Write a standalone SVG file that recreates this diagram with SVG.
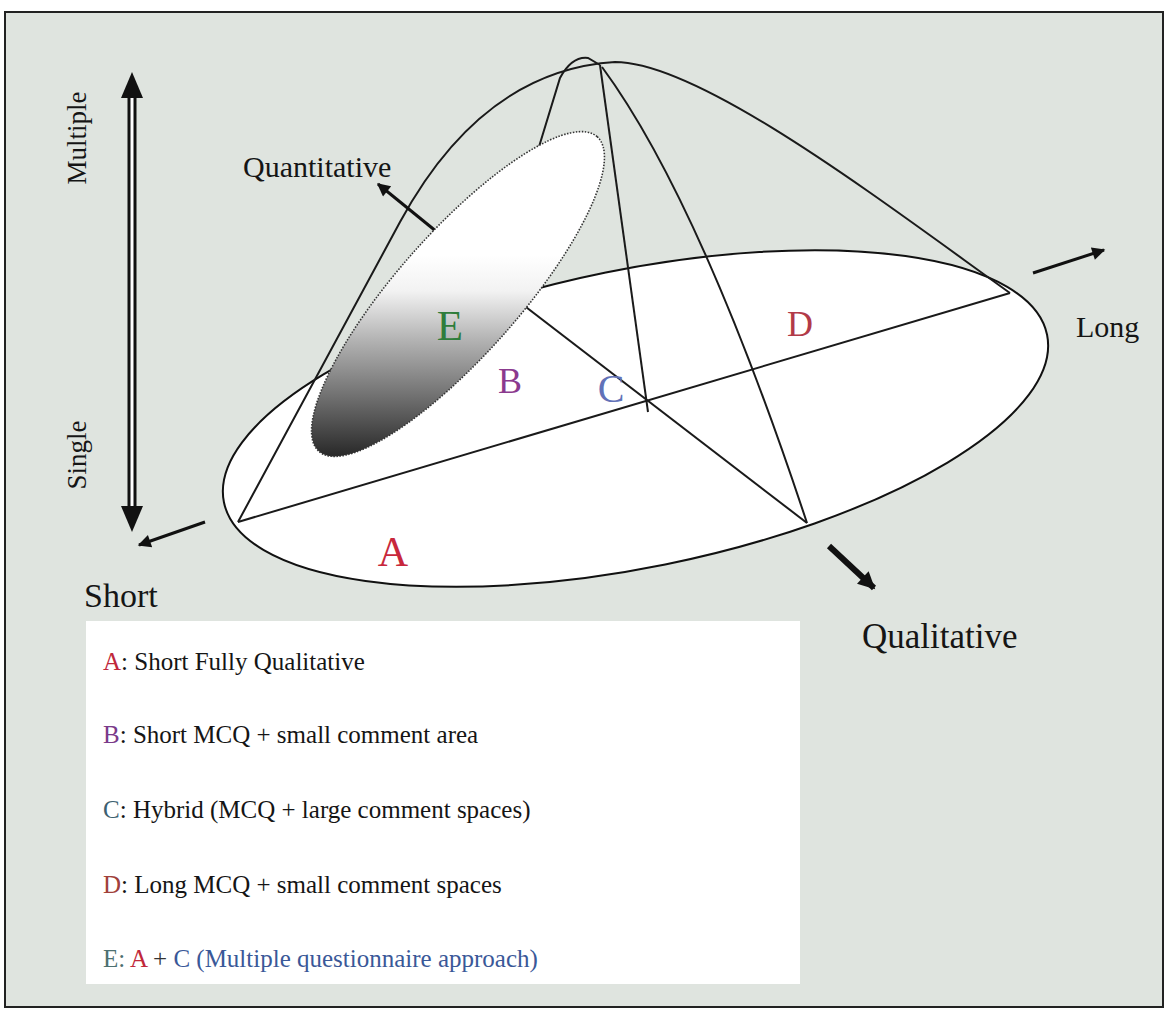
<svg xmlns="http://www.w3.org/2000/svg" width="1167" height="1012" viewBox="0 0 1167 1012">
<style>
.ln{fill:none;stroke:#1a1a1a;stroke-width:2}
.ar{fill:none;stroke:#111;stroke-width:3}
.t{font-family:"Liberation Serif","Times New Roman",serif;fill:#151515}
.lg{font-family:"Liberation Serif","Times New Roman",serif;font-size:25px;fill:#151515}
.big{font-family:"Liberation Serif","Times New Roman",serif;text-anchor:middle}
</style>
<defs>
<linearGradient id="eg" gradientUnits="userSpaceOnUse" x1="0" y1="255" x2="0" y2="455" gradientTransform="rotate(48.5 458 294)">
<stop offset="0" stop-color="#ffffff"/>
<stop offset="0.18" stop-color="#f2f2f2"/>
<stop offset="0.42" stop-color="#b4b4b4"/>
<stop offset="0.7" stop-color="#727272"/>
<stop offset="1" stop-color="#2a2a2a"/>
</linearGradient>
<marker id="tri" viewBox="0 0 10 10" refX="9" refY="5" markerWidth="16" markerHeight="13" markerUnits="userSpaceOnUse" orient="auto">
<path d="M0,0 L10,5 L0,10 z" fill="#111"/>
</marker>
<marker id="triB" viewBox="0 0 10 10" refX="9" refY="5" markerWidth="20" markerHeight="17" markerUnits="userSpaceOnUse" orient="auto">
<path d="M0,0 L10,5 L0,10 z" fill="#111"/>
</marker>
</defs>
<rect x="0" y="0" width="1167" height="1012" fill="#ffffff"/>
<rect id="frame" x="5" y="12" width="1158" height="995" fill="#dfe4df" stroke="#222" stroke-width="2"/>

<g id="base">
<ellipse cx="635.5" cy="418.5" rx="420" ry="149" transform="rotate(-11.5 635.5 418.5)" fill="#ffffff" stroke="#111" stroke-width="2"/>
</g>

<g id="connectors">
<path class="ln" d="M238,522 L1010,293"/>
<path class="ln" d="M500,287 L807,523"/>
<path class="ln" d="M600,65 L648,412"/>
<path class="ln" d="M602,67 Q700,200 807,523"/>
<path class="ln" d="M238,522 L400,222 C450,130 520,68 615,62 C700,62 880,200 1010,293"/>
<path class="ln" d="M538,150 L560,78 Q572,56 588,58 L600,65"/>
<line class="ar" x1="437" y1="232" x2="378" y2="184" marker-end="url(#tri)"/>
<line class="ar" x1="1033" y1="273" x2="1104" y2="250" marker-end="url(#tri)"/>
<line class="ar" x1="205" y1="522" x2="139" y2="545" marker-end="url(#tri)"/>
<line x1="829" y1="546" x2="874" y2="588" stroke="#111" stroke-width="6" marker-end="url(#triB)"/>
</g>

<g id="E-ellipse">
<ellipse cx="458" cy="294" rx="210" ry="61" transform="rotate(-48.5 458 294)" fill="url(#eg)" stroke="#333" stroke-width="1.6" stroke-dasharray="1.5 1.5"/>
</g>

<g id="axis">
<line x1="132" y1="95" x2="132" y2="510" stroke="#111" stroke-width="9"/>
<line x1="132" y1="95" x2="132" y2="510" stroke="#ffffff" stroke-width="3"/>
<path d="M132,72 L143,98 L121,98 z" fill="#111"/>
<path d="M132,532 L143,506 L121,506 z" fill="#111"/>
<text class="t" font-size="27" text-anchor="middle" transform="translate(86,138) rotate(-90)">Multiple</text>
<text class="t" font-size="27" text-anchor="middle" transform="translate(86,455) rotate(-90)">Single</text>
</g>

<g id="labels">
<text class="t" x="243" y="177" font-size="30">Quantitative</text>
<text class="t" x="1076" y="337" font-size="30">Long</text>
<text class="t" x="84" y="607" font-size="34">Short</text>
<text class="t" x="862" y="648" font-size="35">Qualitative</text>
</g>

<g id="node-A"><text class="big" x="393" y="566" font-size="42" fill="#c8283c">A</text></g>
<g id="node-B"><text class="big" x="510" y="393" font-size="36" fill="#8b3a8e">B</text></g>
<g id="node-C"><text class="big" x="611" y="402" font-size="40" fill="#6272b8">C</text></g>
<g id="node-D"><text class="big" x="800" y="336" font-size="36" fill="#b23a48">D</text></g>
<g id="node-E"><text class="big" x="450" y="340" font-size="43" fill="#2f7d3b">E</text></g>

<g id="legend">
<rect x="86" y="621" width="714" height="363" fill="#ffffff"/>
<text class="lg" x="103" y="670"><tspan fill="#c0283a">A</tspan>: Short Fully Qualitative</text>
<text class="lg" x="103" y="743"><tspan fill="#7a3a8a">B</tspan>: Short MCQ + small comment area</text>
<text class="lg" x="103" y="818"><tspan fill="#3c6070">C</tspan>: Hybrid (MCQ + large comment spaces)</text>
<text class="lg" x="103" y="893"><tspan fill="#a0403a">D</tspan>: Long MCQ + small comment spaces</text>
<text class="lg" x="103" y="967"><tspan fill="#4d7070">E: </tspan><tspan fill="#c0283a">A</tspan><tspan fill="#333"> + </tspan><tspan fill="#3a5898">C (Multiple questionnaire approach)</tspan></text>
</g>
</svg>
